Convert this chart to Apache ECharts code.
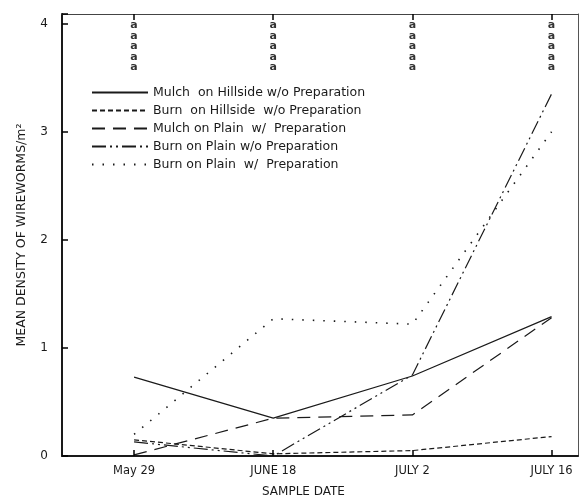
<!DOCTYPE html>
<html>
<head>
<meta charset="utf-8">
<script src="https://cdn.jsdelivr.net/npm/echarts@6/dist/echarts.min.js"></script>
<style>html,body{margin:0;padding:0;background:#fff}#c{width:582px;height:499px}</style>
</head>
<body>
<div id="c"></div>
<script>
const dates = ['May 29', 'JUNE 18', 'JULY 2', 'JULY 16'];
const mulchHillsideNoPrep = [0.73, 0.35, 0.74, 1.29];
const burnHillsideNoPrep = [0.15, 0.02, 0.05, 0.18];
const mulchPlainPrep = [0.01, 0.35, 0.38, 1.28];
const burnPlainNoPrep = [0.13, 0.0, 0.75, 3.35];
const burnPlainPrep = [0.2, 1.27, 1.22, 3.0];
const letterGroups = ['a\na\na\na\na', 'a\na\na\na\na', 'a\na\na\na\na', 'a\na\na\na\na'];
const letterLevel = 3.79;
const yTicks = [0, 1, 2, 3, 4];

const names = [
  'Mulch  on Hillside w/o Preparation',
  'Burn  on Hillside  w/o Preparation',
  'Mulch on Plain  w/  Preparation',
  'Burn on Plain w/o Preparation',
  'Burn on Plain  w/  Preparation'
];
const values = [mulchHillsideNoPrep, burnHillsideNoPrep, mulchPlainPrep, burnPlainNoPrep, burnPlainPrep];
const styles = [
  {type: 'solid', width: 1.2},
  {type: [5, 3], width: 1.2},
  {type: [13, 8], width: 1.2},
  {type: [14, 4, 2, 4, 2, 4], width: 1.2},
  {type: [1.5, 9], width: 1.6}
];
const ink = '#1a1a1a';
const font = 'DejaVu Sans';

const chart = echarts.init(document.getElementById('c'));
const lineSeries = names.map((n, k) => ({
  name: n,
  type: 'line',
  symbol: 'none',
  data: values[k].map((v, i) => [i, v]),
  lineStyle: Object.assign({color: ink}, styles[k]),
  itemStyle: {color: ink},
  z: 3
}));

chart.setOption({
  animation: false,
  backgroundColor: '#fff',
  title: {
    text: 'SAMPLE DATE', left: 257, top: 481,
    textStyle: {fontFamily: font, fontSize: 12, fontWeight: 'normal', color: ink}
  },
  legend: {
    data: names,
    orient: 'vertical',
    left: 86, top: 80,
    itemWidth: 56, itemHeight: 10, itemGap: 3,
    textStyle: {fontFamily: font, fontSize: 12.5, color: ink, lineHeight: 15},
    itemStyle: {color: 'rgba(0,0,0,0)', borderWidth: 0, opacity: 0}
  },
  grid: {left: 62, right: 4, top: 14, bottom: 43},
  xAxis: [{
    type: 'value', min: -0.518, max: 3.19, position: 'bottom',
    axisLine: {show: true, onZero: false, lineStyle: {color: ink, width: 2}},
    axisTick: {show: true, inside: true, length: 6, customValues: [0, 1, 2, 3], lineStyle: {color: '#000', width: 1.5}},
    axisLabel: {customValues: [0, 1, 2, 3], formatter: v => dates[Math.round(v)], fontFamily: font, fontSize: 11.5, color: ink, margin: 9},
    splitLine: {show: false},
    z: 10
  }, {
    type: 'value', min: -0.518, max: 3.19, position: 'top',
    axisLine: {show: true, onZero: false, lineStyle: {color: '#444', width: 1}},
    axisTick: {show: true, inside: true, length: 6, customValues: [0, 1, 2, 3], lineStyle: {color: '#000', width: 1.5}},
    axisLabel: {show: false},
    splitLine: {show: false},
    z: 10
  }],
  yAxis: [{
    type: 'value', min: 0, max: 4.09, interval: 1, position: 'left',
    name: 'MEAN DENSITY OF WIREWORMS/m\u00b2',
    nameLocation: 'middle', nameGap: 34, nameRotate: 90,
    nameTextStyle: {fontFamily: font, fontSize: 12.5, color: ink},
    axisLine: {show: true, onZero: false, lineStyle: {color: ink, width: 2}},
    axisTick: {show: true, inside: true, length: 6, lineStyle: {color: '#000', width: 1.5}},
    axisLabel: {formatter: v => (yTicks.indexOf(v) >= 0 ? String(v) : ''), showMaxLabel: true, fontFamily: font, fontSize: 12, color: ink, margin: 14},
    splitLine: {show: false},
    z: 10
  }, {
    type: 'value', min: 0, max: 4.09, position: 'right',
    axisLine: {show: true, onZero: false, lineStyle: {color: '#555', width: 1}},
    axisTick: {show: false}, axisLabel: {show: false}, splitLine: {show: false}
  }],
  series: lineSeries.concat([{
    type: 'scatter',
    symbolSize: 1,
    itemStyle: {color: 'rgba(0,0,0,0)'},
    data: letterGroups.map((t, i) => [i, letterLevel]),
    label: {
      show: true, position: 'inside',
      formatter: p => letterGroups[p.dataIndex],
      fontFamily: font, fontSize: 11, fontWeight: 'bold', lineHeight: 10.5, color: '#000'
    },
    silent: true,
    z: 5
  }])
});
</script>
</body>
</html>
